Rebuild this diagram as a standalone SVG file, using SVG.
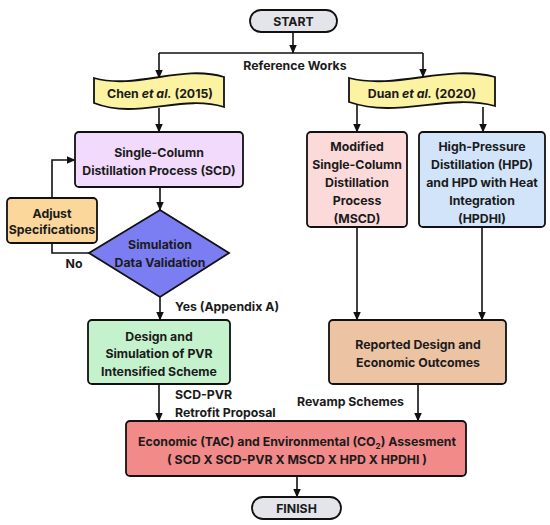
<svg xmlns="http://www.w3.org/2000/svg" width="550" height="525" viewBox="0 0 550 525">
<defs>
<marker id="ah" markerWidth="9" markerHeight="8" refX="8.5" refY="4" orient="auto" markerUnits="userSpaceOnUse">
<path d="M0,0 L9,4 L0,8 z" fill="#111"/>
</marker>
<style>
.t{font-family:Inter,"Noto Sans","Liberation Sans",sans-serif;font-weight:700;font-size:12.3px;fill:#1b1b1b;text-anchor:middle}
.l{text-anchor:start}
.b{stroke:#111;stroke-width:1.8}
.c{fill:none;stroke:#111;stroke-width:1.6}
.a{marker-end:url(#ah)}
</style>
</defs>
<rect width="550" height="525" fill="#fff"/>
<g id="connectors">
<path class="c a" d="M293,32 V53"/>
<path class="c" d="M159,53 H423"/>
<path class="c a" d="M159,53 V78"/>
<path class="c a" d="M423,53 V77"/>
<path class="c a" d="M159,108 V132"/>
<path class="c a" d="M357,105 V132"/>
<path class="c a" d="M483,107 V132"/>
<path class="c a" d="M160,187 V210"/>
<path class="c a" d="M160,297 V320"/>
<path class="c a" d="M89,253 H52 V160 H75"/>
<path class="c a" d="M159,384 V421"/>
<path class="c a" d="M357,227 V320"/>
<path class="c a" d="M482,227 V320"/>
<path class="c a" d="M418,384 V421"/>
<path class="c a" d="M297,476 V497"/>
<text class="t" x="295" y="69.5">Reference Works</text>
<text class="t" x="74" y="267.5">No</text>
<text class="t l" x="175" y="310.5">Yes (Appendix A)</text>
<text class="t l" x="175" y="398.5">SCD-PVR</text>
<text class="t l" x="175" y="416.5">Retrofit Proposal</text>
<text class="t l" x="297" y="405.5">Revamp Schemes</text>
</g>
<g id="start">
<rect class="b" x="250" y="10" width="87" height="22" rx="11" fill="#e3e5ea"/>
<text class="t" x="293.5" y="25.5">START</text>
</g>
<g id="chen">
<path class="b" d="M94,78 C137,90 181,64 224,77 L224,107 C181,94 137,120 94,103 Z" fill="#fbf2a2"/>
<text class="t" x="160" y="98">Chen <tspan font-style="italic">et al.</tspan> (2015)</text>
</g>
<g id="duan">
<path class="b" d="M349,78 C398,90 446,64 495,77 L495,106 C446,93 398,119 349,102 Z" fill="#fbf2a2"/>
<text class="t" x="422" y="98">Duan <tspan font-style="italic">et al.</tspan> (2020)</text>
</g>
<g id="scd">
<rect class="b" x="75" y="132" width="168" height="55" rx="4" fill="#f2dafc"/>
<text class="t" x="159" y="156.5">Single-Column</text>
<text class="t" x="159" y="174.5">Distillation Process (SCD)</text>
</g>
<g id="validation">
<path class="b" d="M160,210 L229,253 L160,297 L89,253 Z" fill="#7b7ef2"/>
<text class="t" x="160" y="248.5">Simulation</text>
<text class="t" x="160" y="266.5">Data Validation</text>
</g>
<g id="adjust">
<rect class="b" x="7" y="198" width="90" height="45" rx="4" fill="#fcd79c"/>
<text class="t" x="52" y="217.5">Adjust</text>
<text class="t" x="52" y="233.5">Specifications</text>
</g>
<g id="pvr">
<rect class="b" x="88" y="320" width="142" height="64" rx="4" fill="#c4f2cd"/>
<text class="t" x="159" y="340.5">Design and</text>
<text class="t" x="159" y="358">Simulation of PVR</text>
<text class="t" x="159" y="375.5">Intensified Scheme</text>
</g>
<g id="mscd">
<rect class="b" x="307" y="132" width="100" height="95" rx="4" fill="#fcdada"/>
<text class="t" x="357" y="150.6">Modified</text>
<text class="t" x="357" y="168.6">Single-Column</text>
<text class="t" x="357" y="186.6">Distillation</text>
<text class="t" x="357" y="204.6">Process</text>
<text class="t" x="357" y="222.6">(MSCD)</text>
</g>
<g id="hpd">
<rect class="b" x="419" y="132" width="126" height="95" rx="4" fill="#d2e4fa"/>
<text class="t" x="482" y="150.6">High-Pressure</text>
<text class="t" x="482" y="168.6">Distillation (HPD)</text>
<text class="t" x="482" y="186.6">and HPD with Heat</text>
<text class="t" x="482" y="204.6">Integration</text>
<text class="t" x="482" y="222.6">(HPDHI)</text>
</g>
<g id="reported">
<rect class="b" x="329" y="320" width="177" height="64" rx="4" fill="#ecc3a3"/>
<text class="t" x="418" y="348.6">Reported Design and</text>
<text class="t" x="418" y="366.6">Economic Outcomes</text>
</g>
<g id="assessment">
<rect class="b" x="126" y="421" width="340" height="55" rx="4" fill="#f28a8a"/>
<text class="t" x="297" y="445.6">Economic (TAC) and Environmental (CO<tspan font-size="8" dy="3">2</tspan><tspan dy="-3">) Assesment</tspan></text>
<text class="t" x="297" y="463.6">( SCD X SCD-PVR X MSCD X HPD X HPDHI )</text>
</g>
<g id="finish">
<rect class="b" x="252" y="497" width="89" height="22" rx="11" fill="#e3e5ea"/>
<text class="t" x="296.5" y="512.5">FINISH</text>
</g>
</svg>
